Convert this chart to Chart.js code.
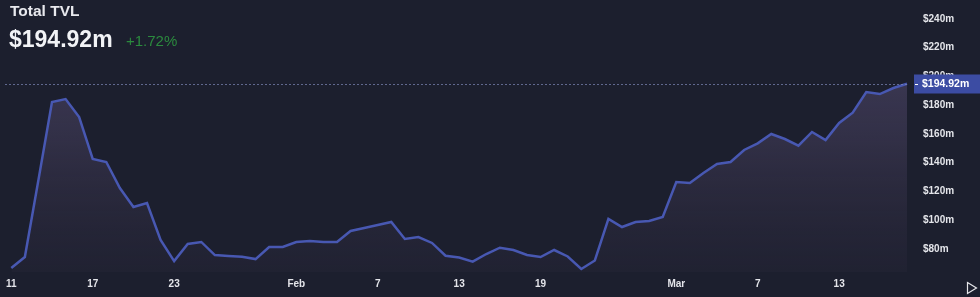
<!DOCTYPE html>
<html>
<head>
<meta charset="utf-8">
<script src="https://cdn.jsdelivr.net/npm/chart.js@4"></script>
<style>
    html, body { margin: 0; padding: 0; background: #1c1f2e; }
    #wrap { position: relative; width: 980px; height: 297px; overflow: hidden; }
    #tvlChart { position: absolute; left: 0; top: 0; }
    .hdr { position: absolute; font-family: 'Liberation Sans', Arial, sans-serif; white-space: nowrap; }
    #title { left: 10px; top: 2px; font-size: 15.5px; font-weight: bold; color: #e8e9ee; }
    #value { left: 9px; top: 26px; font-size: 23px; font-weight: bold; color: #f2f3f6; }
    #change { left: 126px; top: 32px; font-size: 15px; color: #2b8a3e; }
</style>
</head>
<body>
<div id="wrap">
    <canvas id="tvlChart" width="980" height="297"></canvas>
    <div class="hdr" id="title">Total TVL</div>
    <div class="hdr" id="value">$194.92m</div>
    <div class="hdr" id="change">+1.72%</div>
</div>
<script>
// Daily TVL in $m, Jan 11 -> Mar 18
const tvl = [
    66.8, 74.4, 128, 182.3, 184.3, 171.8, 142.6, 140.5, 122.4, 109.2,
    112, 86.3, 71.6, 83.5, 84.9, 75.8, 75.1, 74.6, 73.0, 81.4,
    81.4, 84.9, 85.6, 84.9, 84.9, 92.5, 94.6, 96.7, 98.8, 87.0,
    88.3, 84.2, 75.3, 74.1, 71.2, 76.5, 80.9, 79.3, 75.8, 74.4,
    79.3, 74.8, 66.1, 72.0, 100.9, 95.3, 98.8, 99.5, 102.3, 126.6,
    125.9, 132.9, 139.1, 140.5, 148.9, 153.5, 160.0, 156.5, 151.9, 161.4,
    155.8, 167.7, 174.8, 189.2, 187.8, 192.0, 194.92
];

// category labels (one per day)
const dates = [];
for (let i = 0; i < tvl.length; i++) {
    const d = new Date(2023, 0, 11 + i);
    dates.push(d.toISOString().slice(0, 10));
}

// which x labels are shown
const xTickIndex = [0, 6, 12, 21, 27, 33, 39, 49, 55, 61];
const xTickText = ['11', '17', '23', 'Feb', '7', '13', '19', 'Mar', '7', '13'];

const yTicks = [80, 100, 120, 140, 160, 180, 200, 220, 240];

const lastValue = tvl[tvl.length - 1];

const tickFont = { family: "'Liberation Sans', Arial, sans-serif", size: 10, weight: 'bold' };

// dashed last-value line, price tag, play icon
const overlayPlugin = {
    id: 'overlay',
    afterDatasetsDraw(chart) {
        const ctx = chart.ctx;
        const y = Math.round(chart.scales.y.getPixelForValue(lastValue)) + 0.5;
        ctx.save();
        ctx.strokeStyle = 'rgba(125, 135, 185, 0.7)';
        ctx.lineWidth = 1;
        ctx.setLineDash([2, 2]);
        ctx.beginPath();
        ctx.moveTo(5, y);
        ctx.lineTo(chart.chartArea.right, y);
        ctx.stroke();
        ctx.setLineDash([]);

        // price tag
        ctx.fillStyle = '#3c4ca3';
        ctx.fillRect(914, y - 10, 66, 19);
        ctx.strokeStyle = '#ffffff';
        ctx.beginPath();
        ctx.moveTo(915, y);
        ctx.lineTo(918, y);
        ctx.stroke();
        ctx.fillStyle = '#ffffff';
        ctx.font = "bold 10.5px 'Liberation Sans', Arial, sans-serif";
        ctx.textBaseline = 'middle';
        ctx.fillText('$' + lastValue.toFixed(2) + 'm', 922, y);

        // play icon
        ctx.strokeStyle = '#e6e6ea';
        ctx.lineWidth = 1.2;
        ctx.beginPath();
        ctx.moveTo(967.5, 282.5);
        ctx.lineTo(976.5, 288);
        ctx.lineTo(967.5, 293.5);
        ctx.closePath();
        ctx.stroke();
        ctx.restore();
    }
};

function initTvlChart() {
    const canvas = document.getElementById('tvlChart');
    const ctx = canvas.getContext('2d');

    new Chart(ctx, {
        type: 'line',
        data: {
            labels: dates,
            datasets: [{
                label: 'TVL',
                data: tvl,
                borderColor: '#4858b2',
                borderWidth: 2.5,
                pointRadius: 0,
                tension: 0,
                fill: 'start',
                backgroundColor: function(context) {
                    const area = context.chart.chartArea;
                    if (!area) return 'rgba(80, 70, 110, 0.3)';
                    const g = context.chart.ctx.createLinearGradient(0, area.top, 0, area.bottom);
                    g.addColorStop(0, 'rgba(105, 92, 140, 0.55)');
                    g.addColorStop(0.5, 'rgba(85, 75, 110, 0.4)');
                    g.addColorStop(1, 'rgba(60, 52, 75, 0.15)');
                    return g;
                }
            }]
        },
        options: {
            responsive: false,
            animation: false,
            layout: { padding: { left: 11, top: 0, right: 0, bottom: 0 } },
            plugins: {
                legend: { display: false },
                tooltip: { enabled: false }
            },
            scales: {
                x: {
                    offset: false,
                    grid: { display: false, drawTicks: false },
                    border: { display: false },
                    afterFit: function(scale) { scale.height = 25; },
                    ticks: {
                        autoSkip: false,
                        maxRotation: 0,
                        padding: 6,
                        color: '#e4e5ea',
                        font: tickFont,
                        callback: function(value, index) {
                            const k = xTickIndex.indexOf(index);
                            return k >= 0 ? xTickText[k] : '';
                        }
                    }
                },
                y: {
                    position: 'right',
                    min: 64,
                    max: 253.2,
                    grid: { display: false, drawTicks: false },
                    border: { display: false },
                    afterFit: function(scale) {
                        scale.width = 73;
                        scale.paddingTop = 0;
                        scale.paddingBottom = 0;
                    },
                    afterBuildTicks: function(scale) {
                        scale.ticks = yTicks.map(v => ({ value: v }));
                    },
                    ticks: {
                        padding: 16,
                        color: '#e4e5ea',
                        font: tickFont,
                        callback: function(value) { return '$' + value + 'm'; }
                    }
                }
            }
        },
        plugins: [overlayPlugin]
    });
}

initTvlChart();
</script>
</body>
</html>
